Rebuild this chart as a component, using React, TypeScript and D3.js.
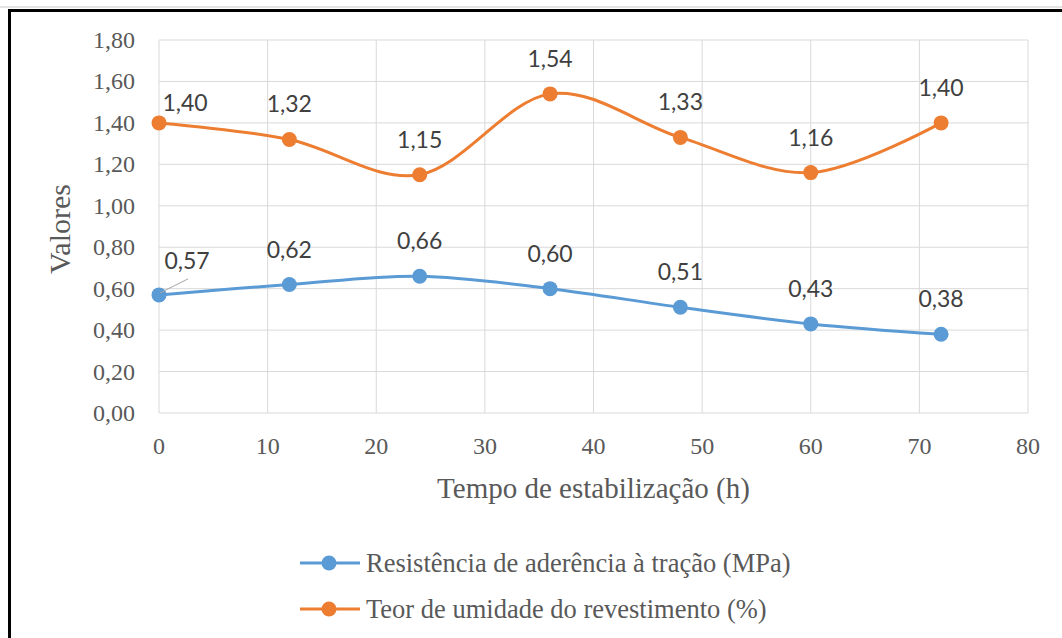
import React from "react";
import * as d3 from "d3";

// Stabilisation time (h)
const hours = [0, 12, 24, 36, 48, 60, 72];
// Tensile bond strength (MPa)
const resistencia = [0.57, 0.62, 0.66, 0.6, 0.51, 0.43, 0.38];
// Coating moisture content (%)
const umidade = [1.4, 1.32, 1.15, 1.54, 1.33, 1.16, 1.4];

const xTicks = [0, 10, 20, 30, 40, 50, 60, 70, 80];
const yTicks = [0, 0.2, 0.4, 0.6, 0.8, 1.0, 1.2, 1.4, 1.6, 1.8];

const seriesNames = [
  "Resistência de aderência à tração (MPa)",
  "Teor de umidade do revestimento (%)",
];

const W = 1062;
const H = 638;
const plot = { left: 159, right: 1028, top: 40, bottom: 413 };

const BLUE = "#5B9BD5";
const ORANGE = "#ED7D31";
const GRID = "#D9D9D9";
const TEXT = "#595959";
const LABEL = "#404040";

const fmt = (v: number) => d3.format(".2f")(v).replace(".", ",");

export default function App() {
  const x = d3.scaleLinear().domain([0, 80]).range([plot.left, plot.right]);
  const y = d3.scaleLinear().domain([0, 1.8]).range([plot.bottom, plot.top]);

  const line = d3
    .line<number>()
    .x((_, i) => x(hours[i]))
    .y((d) => y(d))
    .curve(d3.curveCardinal.tension(0));

  const series = [
    { name: seriesNames[0], values: resistencia, color: BLUE },
    { name: seriesNames[1], values: umidade, color: ORANGE },
  ];

  // label placement relative to each point (first point of each series is nudged right)
  const labelShift = (si: number, i: number) => {
    if (i === 0) return si === 0 ? { dx: 28, dy: -26 } : { dx: 26, dy: -12 };
    return { dx: 0, dy: -27 };
  };

  const serif = "'Liberation Serif', 'Times New Roman', serif";
  const sans = "Lato, 'Liberation Sans', sans-serif";

  return (
    <svg
      width={W}
      height={H}
      style={{ position: "absolute", left: 0, top: 0, background: "#fff" }}
    >
      {/* outer frame */}
      <line x1={0} x2={W} y1={7} y2={7} stroke="#C8C8C8" strokeWidth={1} />
      <rect x={9.5} y={10.5} width={W + 20} height={H + 20} fill="none" stroke="#000" strokeWidth={3} />

      {/* gridlines */}
      {yTicks.map((t) => (
        <line key={"gy" + t} x1={plot.left} x2={plot.right} y1={y(t)} y2={y(t)} stroke={GRID} strokeWidth={1} />
      ))}
      {xTicks.map((t) => (
        <line key={"gx" + t} x1={x(t)} x2={x(t)} y1={plot.top} y2={plot.bottom} stroke={GRID} strokeWidth={1} />
      ))}

      {/* y tick labels */}
      {yTicks.map((t) => (
        <text key={"ty" + t} x={135} y={y(t) + 8} textAnchor="end" fontFamily={serif} fontSize={24} fill={TEXT}>
          {fmt(t)}
        </text>
      ))}
      {/* x tick labels */}
      {xTicks.map((t) => (
        <text key={"tx" + t} x={x(t)} y={454} textAnchor="middle" fontFamily={serif} fontSize={24} fill={TEXT}>
          {t}
        </text>
      ))}

      {/* axis titles */}
      <text x={(plot.left + plot.right) / 2} y={498} textAnchor="middle" fontFamily={serif} fontSize={29} fill={TEXT}>
        Tempo de estabilização (h)
      </text>
      <text
        transform={`translate(70, 229) rotate(-90)`}
        textAnchor="middle"
        fontFamily={serif}
        fontSize={30}
        fill={TEXT}
      >
        Valores
      </text>

      {/* series lines and markers */}
      {series.map((s) => (
        <g key={s.name}>
          <path d={line(s.values) || ""} fill="none" stroke={s.color} strokeWidth={3} strokeLinecap="round" />
          {s.values.map((v, i) => (
            <circle key={i} cx={x(hours[i])} cy={y(v)} r={7.5} fill={s.color} />
          ))}
        </g>
      ))}

      {/* leader line for the first strength label */}
      <line
        x1={x(hours[0]) + 1}
        y1={y(resistencia[0]) - 2}
        x2={x(hours[0]) + 29}
        y2={y(resistencia[0]) - 16}
        stroke="#A6A6A6"
        strokeWidth={1}
      />

      {/* data labels */}
      {series.map((s, si) =>
        s.values.map((v, i) => {
          const o = labelShift(si, i);
          return (
            <text
              key={s.name + i}
              x={x(hours[i]) + o.dx}
              y={y(v) + o.dy}
              textAnchor="middle"
              fontFamily={sans}
              fontSize={23}
              fill={LABEL}
            >
              {fmt(v)}
            </text>
          );
        })
      )}

      {/* legend */}
      {series.map((s, si) => {
        const ly = 563 + si * 46;
        return (
          <g key={"lg" + si}>
            <line x1={300} x2={360} y1={ly} y2={ly} stroke={s.color} strokeWidth={3} />
            <circle cx={329} cy={ly} r={7.5} fill={s.color} />
            <text x={366} y={ly + 9} fontFamily={serif} fontSize={26.5} fill={TEXT}>
              {s.name}
            </text>
          </g>
        );
      })}
    </svg>
  );
}
